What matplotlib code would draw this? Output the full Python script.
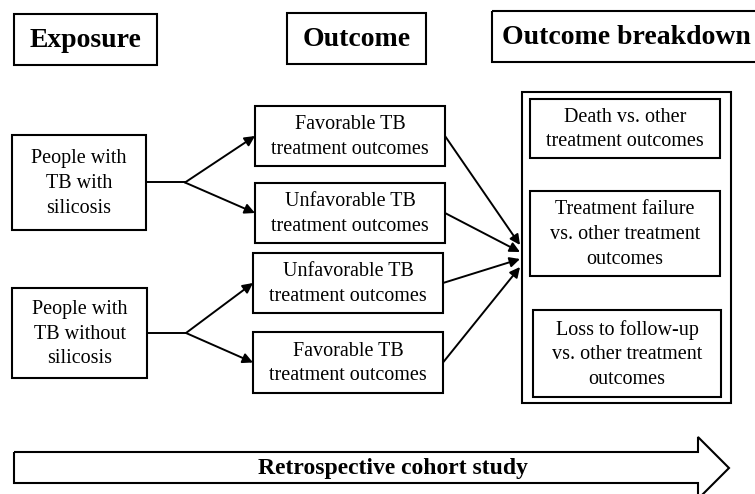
import matplotlib.pyplot as plt
from matplotlib.patches import Rectangle, Polygon

plt.rcParams['font.family'] = ['Liberation Serif', 'DejaVu Serif']

# column headers
headers = ['Exposure', 'Outcome', 'Outcome breakdown']
# exposure groups
exposures = ['People with\nTB with\nsilicosis', 'People with\nTB without\nsilicosis']
# outcome boxes (top to bottom)
outcomes = ['Favorable TB\ntreatment outcomes', 'Unfavorable TB\ntreatment outcomes',
            'Unfavorable TB\ntreatment outcomes', 'Favorable TB\ntreatment outcomes']
# breakdown comparisons
breakdowns = ['Death vs. other\ntreatment outcomes',
              'Treatment failure\nvs. other treatment\noutcomes',
              'Loss to follow-up\nvs. other treatment\noutcomes']
design = 'Retrospective cohort study'

# layout, in pixels (x0, y0, x1, y1)
header_boxes = [(14, 14, 157, 65), (287, 13, 426, 64), (492, 11, 760, 62)]
exposure_boxes = [(12, 135, 146, 230), (12, 288, 147, 378)]
outcome_boxes = [(255, 106, 445, 166), (255, 183, 445, 243),
                 (253, 253, 443, 313), (253, 332, 443, 393)]
breakdown_boxes = [(530, 99, 720, 158), (530, 191, 720, 276), (533, 310, 721, 397)]
outer_box = (522, 92, 731, 403)
tips = [(520, 245), (520, 252), (520, 259), (520, 267)]

fig = plt.figure(figsize=(7.55, 4.94), dpi=100)
ax = fig.add_axes([0, 0, 1, 1])
ax.set_xlim(0, 755)
ax.set_ylim(494, 0)
ax.axis('off')


def box(b, text=None, size=14.5, weight='normal', lw=1.5):
    x0, y0, x1, y1 = b
    ax.add_patch(Rectangle((x0, y0), x1 - x0, y1 - y0, fill=False, ec='black', lw=lw))
    if text:
        ax.text((x0 + x1) / 2, (y0 + y1) / 2 + 1, text, ha='center', va='center',
                fontsize=size, weight=weight, linespacing=1.4)


def arrow(start, end):
    ax.annotate('', xy=end, xytext=start,
                arrowprops=dict(arrowstyle='-|>', color='black', lw=1.4,
                                mutation_scale=15, shrinkA=0, shrinkB=0))


for b, t in zip(header_boxes, headers):
    box(b, t, size=20, weight='bold')

for b, t in zip(exposure_boxes, exposures):
    box(b, t)
for b, t in zip(outcome_boxes, outcomes):
    box(b, t)
box(outer_box)
for b, t in zip(breakdown_boxes, breakdowns):
    box(b, t)

# branching arrows from exposure boxes
for i, b in enumerate(exposure_boxes):
    x1 = b[2]
    ym = (b[1] + b[3]) / 2
    ax.plot([x1, x1 + 39], [ym, ym], color='black', lw=1.4)
    for ob in outcome_boxes[2 * i:2 * i + 2]:
        arrow((x1 + 39, ym), (ob[0], (ob[1] + ob[3]) / 2))

# converging arrows to breakdown
for ob, tip in zip(outcome_boxes, tips):
    arrow((ob[2], (ob[1] + ob[3]) / 2), tip)

# big timeline arrow
pts = [(14, 452), (698, 452), (698, 437), (729, 468), (698, 499),
       (698, 483), (14, 483)]
ax.add_patch(Polygon(pts, closed=True, fill=False, ec='black', lw=1.5))
ax.text(393, 468, design, ha='center', va='center', fontsize=17, weight='bold')

fig.savefig('out.png', dpi=100)
